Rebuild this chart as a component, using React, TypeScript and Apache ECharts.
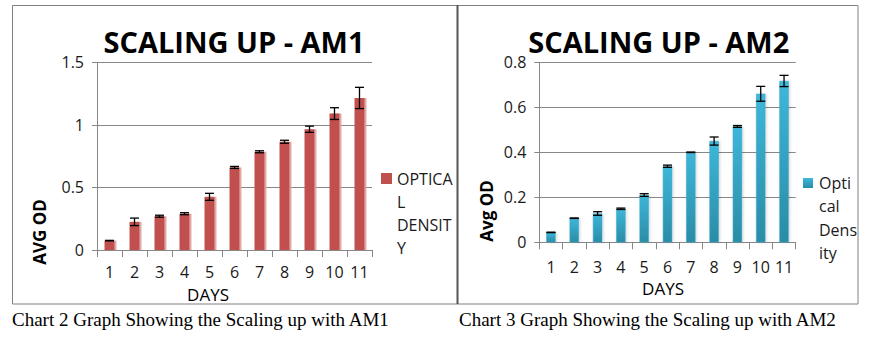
import React, { useEffect, useRef } from "react";
import * as echarts from "echarts";

const days = ["1", "2", "3", "4", "5", "6", "7", "8", "9", "10", "11"];
const am1Values = [0.075, 0.225, 0.27, 0.29, 0.425, 0.66, 0.785, 0.865, 0.965, 1.09, 1.215];
const am1Errors = [0.002, 0.03, 0.008, 0.008, 0.028, 0.008, 0.008, 0.012, 0.025, 0.047, 0.085];
const am2Values = [0.044, 0.107, 0.128, 0.149, 0.21, 0.338, 0.4, 0.45, 0.515, 0.66, 0.717];
const am2Errors = [0.001, 0.001, 0.008, 0.003, 0.006, 0.005, 0.001, 0.018, 0.004, 0.033, 0.025];
const am1Ticks = { min: 0, max: 1.5, interval: 0.5 };
const am2Ticks = { min: 0, max: 0.8, interval: 0.2 };

const SANS = "'Open Sans', 'Noto Sans', sans-serif";
const SERIF = "'Liberation Serif', 'DejaVu Serif', serif";
const GRID_GRAY = "#878787";

function errorBarRender(params: any, api: any) {
  const i = api.value(0);
  const v = api.value(1);
  const e = api.value(2);
  const top = api.coord([i, v + e]);
  const bot = api.coord([i, v - e]);
  const hw = 4.5;
  const st = { stroke: "#000", lineWidth: 1.3 };
  return {
    type: "group",
    children: [
      { type: "line", shape: { x1: top[0], y1: top[1], x2: bot[0], y2: bot[1] }, style: st },
      { type: "line", shape: { x1: top[0] - hw, y1: top[1], x2: top[0] + hw, y2: top[1] }, style: st },
      { type: "line", shape: { x1: bot[0] - hw, y1: bot[1], x2: bot[0] + hw, y2: bot[1] }, style: st },
    ],
  };
}

function xAxisCfg(gridIndex: number, margin: number) {
  return {
    type: "category",
    gridIndex,
    data: days,
    boundaryGap: true,
    axisLine: { show: true, lineStyle: { color: GRID_GRAY, width: 1 } },
    axisTick: { show: true, interval: 0, length: 7, lineStyle: { color: GRID_GRAY } },
    axisLabel: { interval: 0, margin, fontFamily: SANS, fontSize: 16, color: "#1a1a1a" },
  };
}

function yAxisCfg(gridIndex: number, t: { min: number; max: number; interval: number }) {
  return {
    type: "value",
    gridIndex,
    min: t.min,
    max: t.max,
    interval: t.interval,
    axisLine: { show: true, lineStyle: { color: GRID_GRAY, width: 1 } },
    axisTick: { show: true, length: 5, lineStyle: { color: GRID_GRAY } },
    splitLine: { show: true, lineStyle: { color: GRID_GRAY, width: 1 } },
    axisLabel: { margin: 13, fontFamily: SANS, fontSize: 16, color: "#1a1a1a" },
  };
}

export default function App() {
  const ref = useRef<HTMLDivElement>(null);
  useEffect(() => {
    document.body.style.margin = "0";
    const chart = echarts.init(ref.current!, undefined, { renderer: "svg" });
    const option: any = {
      animation: false,
      backgroundColor: "#ffffff",
      grid: [
        { left: 97, top: 62.3, width: 275, height: 187.7 },
        { left: 539.3, top: 62.3, width: 256.4, height: 180 },
      ],
      xAxis: [xAxisCfg(0, 14), xAxisCfg(1, 17)],
      yAxis: [yAxisCfg(0, am1Ticks), yAxisCfg(1, am2Ticks)],
      series: [
        {
          type: "bar",
          name: "OPTICAL DENSITY",
          xAxisIndex: 0,
          yAxisIndex: 0,
          barWidth: "40%",
          data: am1Values,
          itemStyle: {
            color: "#C0504D",
            shadowColor: "rgba(222,160,158,0.9)",
            shadowOffsetX: 2,
            shadowBlur: 1,
          },
          z: 2,
        },
        {
          type: "custom",
          xAxisIndex: 0,
          yAxisIndex: 0,
          data: days.map((_, i) => [i, am1Values[i], am1Errors[i]]),
          encode: { x: 0, y: 1 },
          renderItem: errorBarRender,
          z: 5,
        },
        {
          type: "bar",
          name: "Optical Density",
          xAxisIndex: 1,
          yAxisIndex: 1,
          barWidth: "40%",
          data: am2Values,
          itemStyle: {
            color: new echarts.graphic.LinearGradient(0, 0, 0, 1, [
              { offset: 0, color: "#3DB7DA" },
              { offset: 1, color: "#2A8CA6" },
            ]),
            borderColor: "#3AA7C6",
            borderWidth: 0.5,
            shadowColor: "rgba(0,0,0,0.18)",
            shadowOffsetX: 1,
            shadowBlur: 3,
          },
          z: 2,
        },
        {
          type: "custom",
          xAxisIndex: 1,
          yAxisIndex: 1,
          data: days.map((_, i) => [i, am2Values[i], am2Errors[i]]),
          encode: { x: 0, y: 1 },
          renderItem: errorBarRender,
          z: 5,
        },
      ],
      graphic: [
        { type: "rect", shape: { x: 12.5, y: 5.5, width: 445, height: 298.5 }, style: { fill: "none", stroke: "#808080", lineWidth: 1 } },
        { type: "rect", shape: { x: 457.5, y: 5.5, width: 400.5, height: 298.5 }, style: { fill: "none", stroke: "#808080", lineWidth: 1 } },
        { type: "line", shape: { x1: 457.5, y1: 5, x2: 457.5, y2: 304 }, style: { stroke: "#555", lineWidth: 2 } },
        {
          type: "text", x: 234, y: 41,
          style: { text: "SCALING UP - AM1", fontFamily: SANS, fontWeight: "bold", fontSize: 29, fill: "#000", align: "center", verticalAlign: "middle" },
        },
        {
          type: "text", x: 658.7, y: 41,
          style: { text: "SCALING UP - AM2", fontFamily: SANS, fontWeight: "bold", fontSize: 29, fill: "#000", align: "center", verticalAlign: "middle" },
        },
        {
          type: "text", x: 39, y: 232, rotation: Math.PI / 2,
          style: { text: "AVG OD", fontFamily: SANS, fontWeight: "bold", fontSize: 17, fill: "#000", align: "center", verticalAlign: "middle" },
        },
        {
          type: "text", x: 486, y: 211, rotation: Math.PI / 2,
          style: { text: "Avg OD", fontFamily: SANS, fontWeight: "bold", fontSize: 17, fill: "#000", align: "center", verticalAlign: "middle" },
        },
        {
          type: "text", x: 208, y: 294,
          style: { text: "DAYS", fontFamily: SANS, fontSize: 17, fill: "#000", align: "center", verticalAlign: "middle" },
        },
        {
          type: "text", x: 663, y: 288,
          style: { text: "DAYS", fontFamily: SANS, fontSize: 17, fill: "#000", align: "center", verticalAlign: "middle" },
        },
        { type: "rect", shape: { x: 381, y: 173, width: 11, height: 11 }, style: { fill: "#C0504D" } },
        {
          type: "text", x: 397, y: 167.5,
          style: { text: "OPTICA\nL\nDENSIT\nY", fontFamily: SANS, fontSize: 16, lineHeight: 23, fill: "#1a1a1a", align: "left", verticalAlign: "top" },
        },
        {
          type: "rect", shape: { x: 803, y: 178, width: 10, height: 10 },
          style: { fill: new echarts.graphic.LinearGradient(0, 0, 0, 1, [{ offset: 0, color: "#3DB7DA" }, { offset: 1, color: "#2A8CA6" }]) },
        },
        {
          type: "text", x: 819, y: 171.5,
          style: { text: "Opti\ncal\nDens\nity", fontFamily: SANS, fontSize: 16, lineHeight: 23.3, fill: "#1a1a1a", align: "left", verticalAlign: "top" },
        },
        {
          type: "text", x: 12, y: 319,
          style: { text: "Chart 2 Graph Showing the Scaling up with AM1", fontFamily: SERIF, fontSize: 19, fill: "#000", align: "left", verticalAlign: "middle" },
        },
        {
          type: "text", x: 459, y: 319,
          style: { text: "Chart 3 Graph Showing the Scaling up with AM2", fontFamily: SERIF, fontSize: 19, fill: "#000", align: "left", verticalAlign: "middle" },
        },
      ],
    };
    chart.setOption(option);
    return () => chart.dispose();
  }, []);
  return <div ref={ref} style={{ width: 880, height: 338 }} />;
}
